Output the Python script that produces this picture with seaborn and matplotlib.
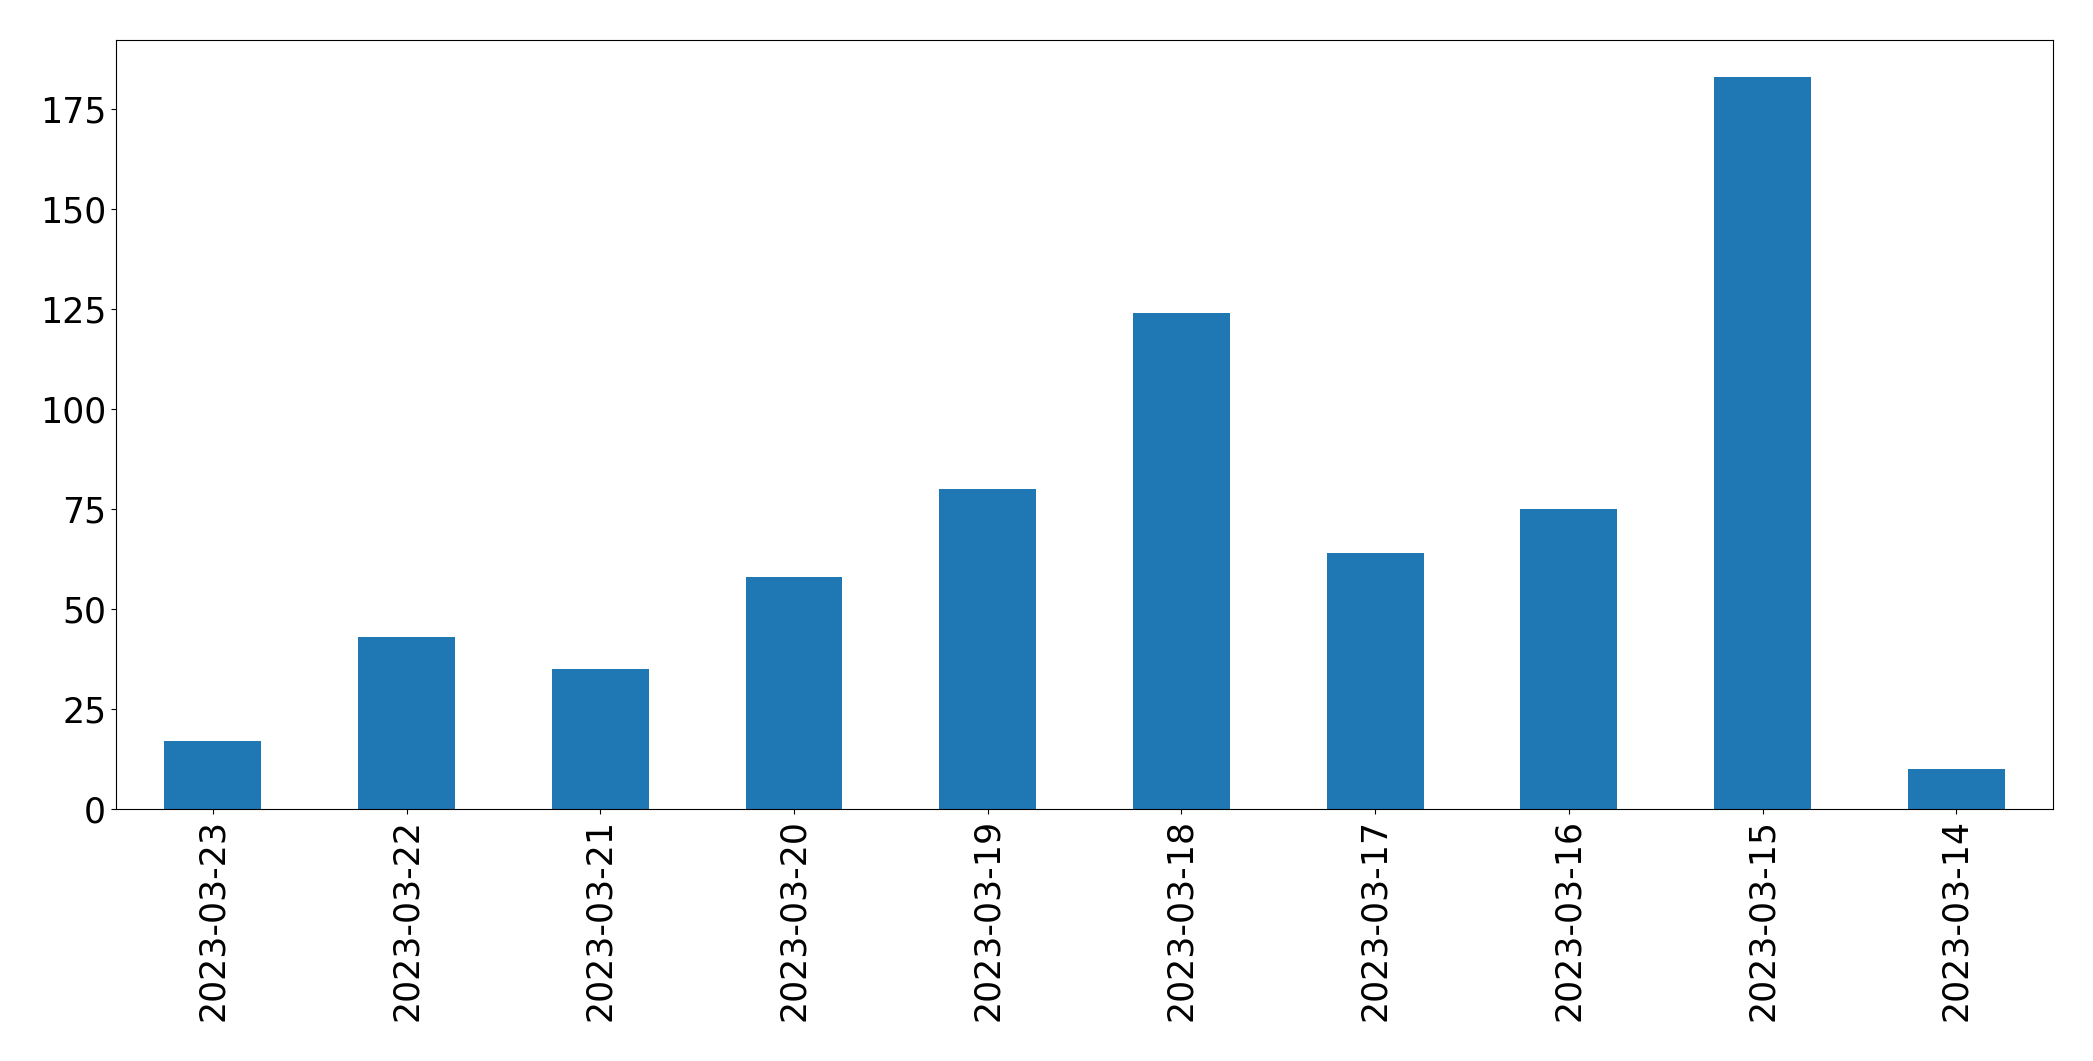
import pandas as pd
import matplotlib
matplotlib.use('Agg')
import matplotlib.pyplot as plt
import seaborn as sns

# Dados
datas = ['2023-03-23', '2023-03-22', '2023-03-21', '2023-03-20', '2023-03-19',
         '2023-03-18', '2023-03-17', '2023-03-16', '2023-03-15', '2023-03-14']
contagens = [17, 43, 35, 58, 80, 124, 64, 75, 183, 10]

df = pd.DataFrame({'data': datas, 'contagem': contagens})

fig, ax = plt.subplots(figsize=(20.93, 10.61), dpi=100)
sns.barplot(data=df, x='data', y='contagem', order=datas, color='#1f77b4',
            saturation=1, width=0.5, ax=ax)

ax.set_xlim(-0.5, len(datas) - 0.5)
ax.set_xlabel('')
ax.set_ylabel('')
ax.tick_params(axis='both', labelsize=25)
plt.setp(ax.get_xticklabels(), rotation=90)

fig.subplots_adjust(left=0.0554, right=0.981, top=0.962, bottom=0.2375)
fig.savefig('out.png', dpi=100)
